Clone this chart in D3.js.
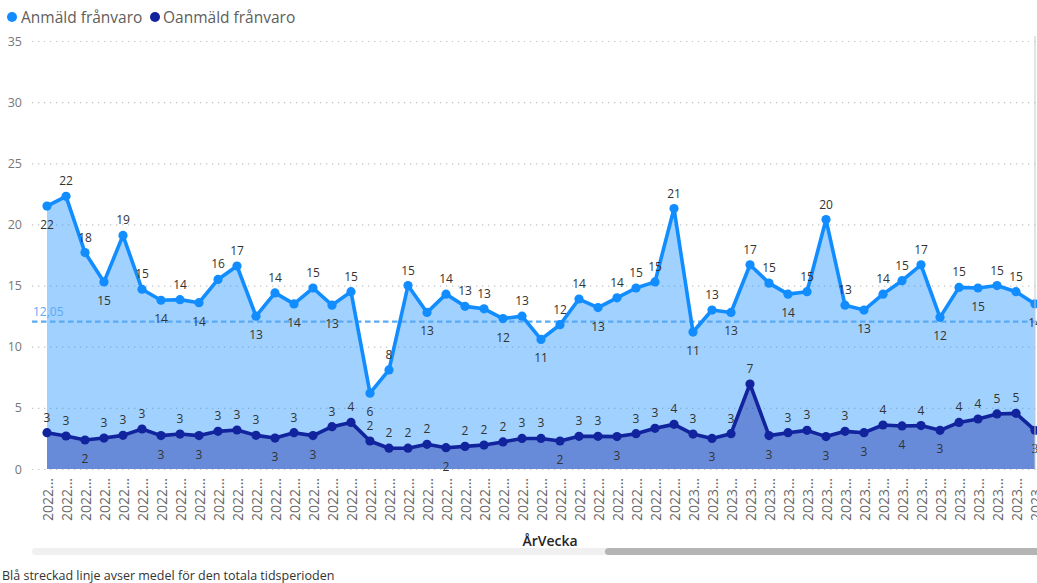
<!DOCTYPE html>
<html><head><meta charset="utf-8">
<script src="https://cdn.jsdelivr.net/npm/d3@7"></script>
<style>
html,body{margin:0;padding:0;background:#fff;overflow:hidden}
svg{display:block;font-family:"Segoe UI","Open Sans","Noto Sans",sans-serif}
</style></head><body>
<svg id="chart" width="1037" height="583"></svg>
<script>
const seriesNames = ["Anmäld frånvaro", "Oanmäld frånvaro"];
const categories = [
 "2022...","2022...","2022...","2022...","2022...","2022...","2022...","2022...","2022...","2022...",
 "2022...","2022...","2022...","2022...","2022...","2022...","2022...","2022...","2022...","2022...",
 "2022...","2022...","2022...","2022...","2022...","2022...","2022...","2022...","2022...","2022...",
 "2022...","2022...","2022...","2022...",
 "2023...","2023...","2023...","2023...","2023...","2023...","2023...","2023...","2023...","2023...",
 "2023...","2023...","2023...","2023...","2023...","2023...","2023...","2023...","2023..."
];
const anmald = [
 21.5,22.3,17.7,15.3,19.1,14.7,13.8,13.85,13.6,15.5,
 16.6,12.5,14.4,13.5,14.8,13.4,14.5,6.2,8.1,15.0,
 12.8,14.3,13.3,13.1,12.3,12.5,10.6,11.8,13.9,13.2,
 14.0,14.8,15.3,21.3,11.2,13.0,12.8,16.7,15.2,14.3,
 14.5,20.4,13.4,13.0,14.3,15.4,16.7,12.4,14.85,14.8,
 15.0,14.5,13.5
];
const oanmald = [
 2.97,2.7,2.37,2.53,2.75,3.27,2.73,2.86,2.73,3.08,
 3.19,2.75,2.53,2.97,2.73,3.46,3.81,2.29,1.7,1.7,
 2.02,1.74,1.85,1.96,2.21,2.5,2.5,2.29,2.67,2.67,
 2.65,2.89,3.33,3.65,2.86,2.5,2.89,6.95,2.73,2.97,
 3.16,2.65,3.08,2.97,3.6,3.52,3.55,3.16,3.81,4.09,
 4.5,4.55,3.16
];
const meanValue = 12.05;
const yTicks = [0,5,10,15,20,25,30,35];
const xTitle = "ÅrVecka";
const footnote = "Blå streckad linje avser medel för den totala tidsperioden";

const colA = "#118DFF", colO = "#12239E", meanCol = "#5BAAF6";
const svg = d3.select("#chart");
const W = 1037;

const x = d3.scalePoint().domain(d3.range(categories.length)).range([47, 1035]);
const y = d3.scaleLinear().domain([0, 35]).range([469, 41]);

// legend
const leg = svg.append("g").attr("font-size", 15.5).attr("fill", "#605E5C");
leg.append("circle").attr("cx", 12).attr("cy", 17).attr("r", 5).attr("fill", colA);
leg.append("text").attr("x", 21).attr("y", 22.5).text(seriesNames[0]);
leg.append("circle").attr("cx", 155).attr("cy", 17).attr("r", 5).attr("fill", colO);
leg.append("text").attr("x", 163).attr("y", 22.5).text(seriesNames[1]);

// y axis + gridlines
const yAxis = d3.axisLeft(y).tickValues(yTicks).tickSize(-(W - 32)).tickPadding(10).tickFormat(d3.format("d"));
const gy = svg.append("g").attr("transform", "translate(32,0)").call(yAxis);
gy.select(".domain").remove();
gy.selectAll(".tick line").attr("stroke", "#c4c4c4").attr("stroke-width", 1.2).attr("stroke-dasharray", "1.3,4.7");
gy.selectAll(".tick text").attr("fill", "#777").attr("font-size", 12.5).attr("font-family", "'Segoe UI','Open Sans',sans-serif");

const plot = svg.append("g");

const areaA = d3.area().x((d, i) => x(i)).y0(y(0)).y1(d => y(d));
plot.append("path").datum(anmald).attr("d", areaA).attr("fill", colA).attr("fill-opacity", 0.4);
plot.append("path").datum(oanmald).attr("d", areaA).attr("fill", colO).attr("fill-opacity", 0.4);

// right border line
svg.append("line").attr("x1", 1035).attr("x2", 1035).attr("y1", 36).attr("y2", 470).attr("stroke", "#c8c8c8").attr("stroke-width", 1);

// mean line
plot.append("line").attr("x1", 32).attr("x2", W).attr("y1", y(meanValue)).attr("y2", y(meanValue))
  .attr("stroke", meanCol).attr("stroke-width", 2.2).attr("stroke-dasharray", "5.5,3.5");
plot.append("text").attr("x", 33).attr("y", y(meanValue) - 6).attr("font-size", 12).attr("fill", meanCol)
  .text(d3.format(".2f")(meanValue).replace(".", ","));

const line = d3.line().x((d, i) => x(i)).y(d => y(d));
function drawSeries(data, col) {
  plot.append("path").datum(data).attr("d", line).attr("fill", "none").attr("stroke", col)
    .attr("stroke-width", 3.6).attr("stroke-linejoin", "round");
  plot.selectAll(null).data(data).enter().append("circle")
    .attr("cx", (d, i) => x(i)).attr("cy", d => y(d)).attr("r", 4.6).attr("fill", col);
}
drawSeries(anmald, colA);
drawSeries(oanmald, colO);

function isBelow(data, i) {
  const v = data[i], p = data[i - 1], n = data[i + 1];
  if (p === undefined) return v < n;
  if (n === undefined) return v < p;
  return v < p && v < n;
}
function drawLabels(data) {
  plot.selectAll(null).data(data).enter().append("text")
    .attr("x", (d, i) => x(i))
    .attr("y", (d, i) => isBelow(data, i) ? y(d) + 23 : y(d) - 11)
    .attr("text-anchor", "middle").attr("font-size", 12).attr("fill", "#333")
    .text(d => Math.round(d));
}
drawLabels(anmald);
drawLabels(oanmald);

// x axis labels
const xAxis = d3.axisBottom(x).tickSize(0).tickFormat(i => categories[i]);
const gx = svg.append("g").attr("transform", "translate(0,469)").call(xAxis);
gx.select(".domain").remove();
gx.selectAll(".tick text")
  .attr("transform", "rotate(-90)")
  .attr("text-anchor", "end").attr("dy", null)
  .attr("x", -9).attr("y", 5)
  .attr("font-size", 14).attr("fill", "#666")
  .attr("font-family", "'Segoe UI','Open Sans',sans-serif");

// x title
svg.append("text").attr("x", 550).attr("y", 546).attr("text-anchor", "middle")
  .attr("font-size", 14).attr("font-weight", 600).attr("fill", "#252423").text(xTitle);

// scrollbar
svg.append("rect").attr("x", 32).attr("y", 548).attr("width", W - 32).attr("height", 7).attr("rx", 3.5).attr("fill", "#f0f0f0");
svg.append("rect").attr("x", 605).attr("y", 548).attr("width", W - 605 + 4).attr("height", 7).attr("rx", 3.5).attr("fill", "#b4b4b4");

// footnote
svg.append("text").attr("x", 2).attr("y", 580).attr("font-size", 12.5).attr("fill", "#333").text(footnote);
</script>
</body></html>
